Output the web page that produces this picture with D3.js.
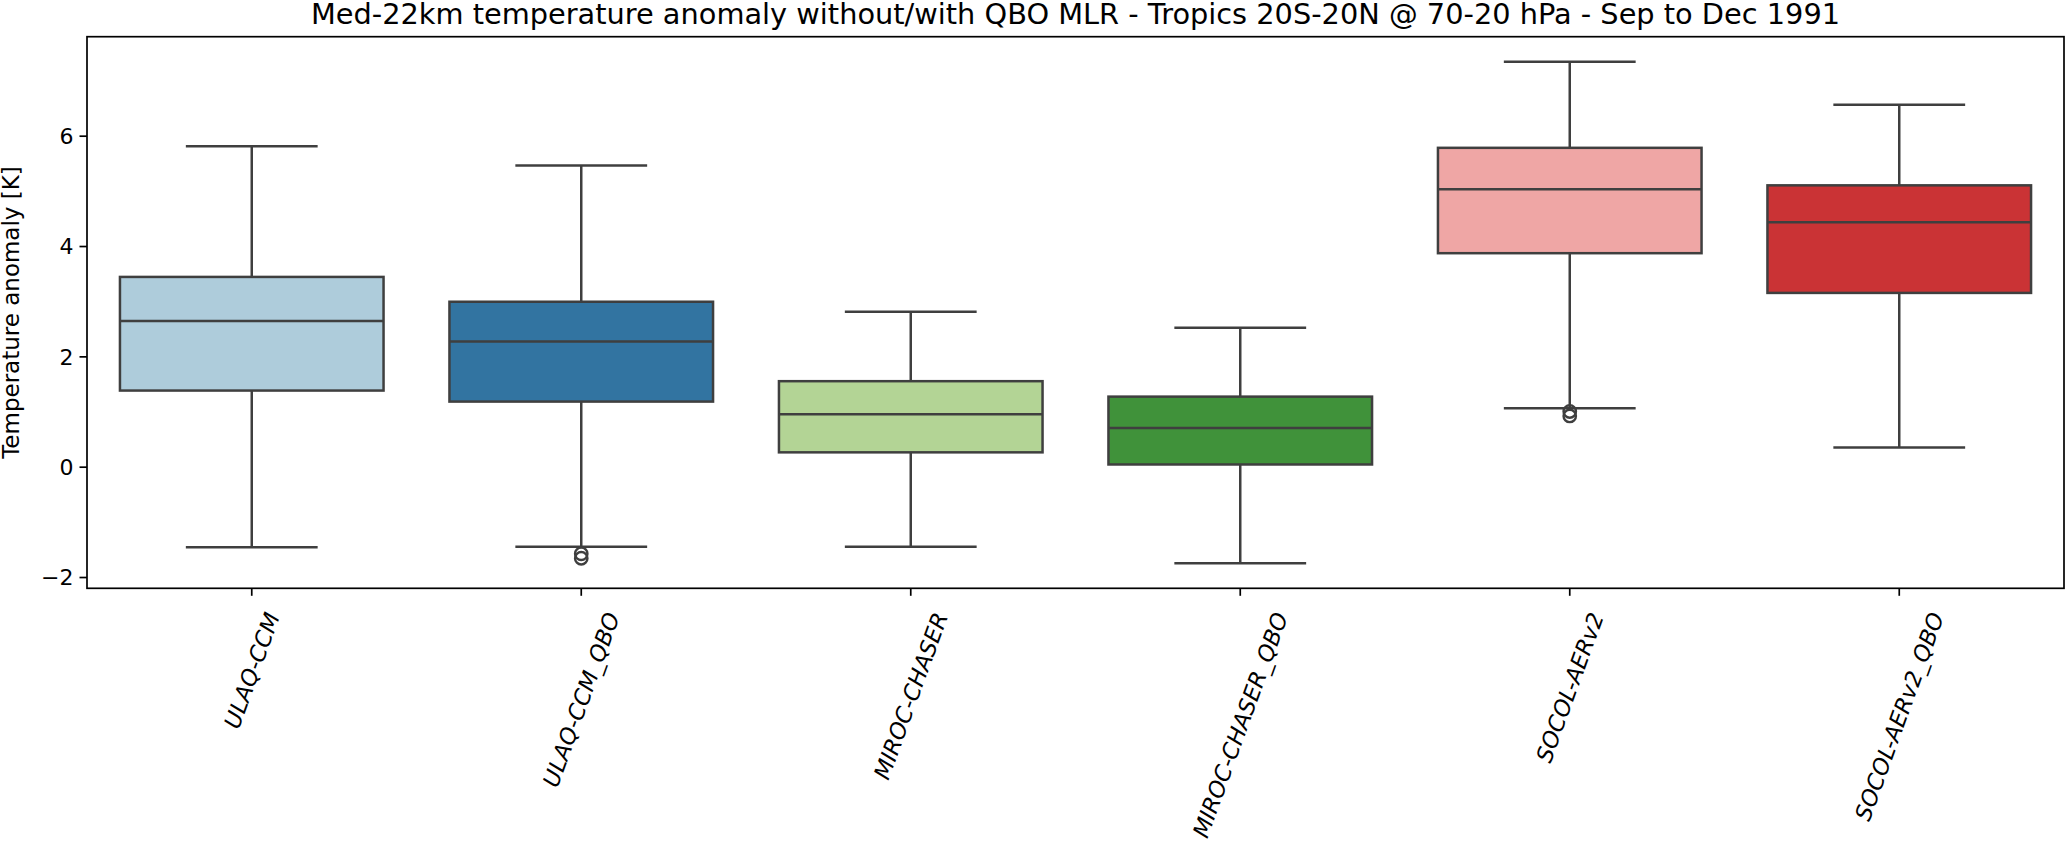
<!DOCTYPE html>
<html>
<head>
<meta charset="utf-8">
<script src="https://cdn.jsdelivr.net/npm/d3@7"></script>
<style>
  html, body { margin: 0; padding: 0; background: #fff; }
  svg { display: block; font-family: "DejaVu Sans", sans-serif; }
</style>
</head>
<body>
<svg id="chart" width="2067" height="850"></svg>
<script>
// box statistics
const categories = ["ULAQ-CCM", "ULAQ-CCM_QBO", "MIROC-CHASER", "MIROC-CHASER_QBO", "SOCOL-AERv2", "SOCOL-AERv2_QBO"];
const whiskerLow = [-1.46, -1.45, -1.45, -1.75, 1.06, 0.35];
const q1 = [1.38, 1.18, 0.26, 0.04, 3.87, 3.15];
const median = [2.64, 2.27, 0.95, 0.70, 5.03, 4.43];
const q3 = [3.44, 2.99, 1.55, 1.27, 5.78, 5.10];
const whiskerHigh = [5.81, 5.46, 2.81, 2.52, 7.34, 6.56];
const fliers = [[], [-1.58, -1.66], [], [], [1.00, 0.92], []];
const boxColors = ["#aeccdb", "#3274a1", "#b3d495", "#40923a", "#efa6a5", "#ca3335"];
const yTicks = [-2, 0, 2, 4, 6];

const title = "Med-22km temperature anomaly without/with QBO MLR - Tropics 20S-20N @ 70-20 hPa - Sep to Dec 1991";
const yLabel = "Temperature anomaly [K]";

const svg = d3.select("#chart");
const margin = { top: 36.7, right: 3, bottom: 261.7, left: 87 };
const width = 2067, height = 850;
const lineColor = "#3f3f3f";
const lw = 2.5;

const data = categories.map((c, i) => ({
  name: c, lo: whiskerLow[i], q1: q1[i], med: median[i], q3: q3[i], hi: whiskerHigh[i],
  fliers: fliers[i], color: boxColors[i]
}));

const allVals = data.flatMap(d => [d.lo, d.hi, ...d.fliers]);
const yMin = d3.min(allVals), yMax = d3.max(allVals);
const pad = (yMax - yMin) * 0.05;

const x = d3.scaleBand().domain(categories).range([margin.left, width - margin.right]).padding(0);
const y = d3.scaleLinear().domain([yMin - pad, yMax + pad]).range([height - margin.bottom, margin.top]);

const boxW = x.bandwidth() * 0.8;
const capW = boxW / 2;

const boxes = svg.append("g").selectAll("g")
  .data(data)
  .enter().append("g")
  .attr("transform", d => `translate(${x(d.name) + x.bandwidth() / 2},0)`);

// whiskers
boxes.append("line")
  .attr("x1", 0).attr("x2", 0)
  .attr("y1", d => y(d.q3)).attr("y2", d => y(d.hi))
  .attr("stroke", lineColor).attr("stroke-width", lw);
boxes.append("line")
  .attr("x1", 0).attr("x2", 0)
  .attr("y1", d => y(d.q1)).attr("y2", d => y(d.lo))
  .attr("stroke", lineColor).attr("stroke-width", lw);
boxes.append("line")
  .attr("x1", -capW / 2).attr("x2", capW / 2)
  .attr("y1", d => y(d.hi)).attr("y2", d => y(d.hi))
  .attr("stroke", lineColor).attr("stroke-width", lw);
boxes.append("line")
  .attr("x1", -capW / 2).attr("x2", capW / 2)
  .attr("y1", d => y(d.lo)).attr("y2", d => y(d.lo))
  .attr("stroke", lineColor).attr("stroke-width", lw);

// box
boxes.append("rect")
  .attr("x", -boxW / 2)
  .attr("width", boxW)
  .attr("y", d => y(d.q3))
  .attr("height", d => y(d.q1) - y(d.q3))
  .attr("fill", d => d.color)
  .attr("stroke", lineColor).attr("stroke-width", lw);

// median
boxes.append("line")
  .attr("x1", -boxW / 2).attr("x2", boxW / 2)
  .attr("y1", d => y(d.med)).attr("y2", d => y(d.med))
  .attr("stroke", lineColor).attr("stroke-width", lw);

// outliers
boxes.selectAll("circle")
  .data(d => d.fliers)
  .enter().append("circle")
  .attr("cx", 0)
  .attr("cy", v => y(v))
  .attr("r", 6.2)
  .attr("fill", "none")
  .attr("stroke", lineColor).attr("stroke-width", 2.4);

// axes
const yAxis = svg.append("g")
  .attr("transform", `translate(${margin.left},0)`)
  .call(d3.axisLeft(y).tickValues(yTicks).tickSize(7.5).tickPadding(6).tickFormat(d => d < 0 ? "\u2212" + Math.abs(d) : d));
yAxis.select(".domain").remove();
yAxis.selectAll(".tick line").attr("stroke", "#000").attr("stroke-width", 1.7);
yAxis.selectAll(".tick text")
  .attr("font-size", 22).attr("fill", "#000")
  .attr("font-family", "DejaVu Sans").attr("dy", "0.36em");

const xAxis = svg.append("g")
  .attr("transform", `translate(0,${height - margin.bottom})`)
  .call(d3.axisBottom(x).tickSize(7.5).tickSizeOuter(0));
xAxis.select(".domain").remove();
xAxis.selectAll(".tick line").attr("stroke", "#000").attr("stroke-width", 1.7);
xAxis.selectAll(".tick text").remove();

// rotated category labels, bbox centred below each tick
const labelTop = 609;
const labels = svg.append("g").selectAll("text")
  .data(categories)
  .enter().append("text")
  .attr("font-size", 22.5)
  .attr("font-style", "italic")
  .attr("fill", "#000")
  .attr("text-anchor", "end")
  .attr("transform", d => `translate(${x(d) + x.bandwidth() / 2},${labelTop}) rotate(-70)`)
  .text(d => d);
labels.each(function (d) {
  const r = this.getBoundingClientRect();
  const cx = x(d) + x.bandwidth() / 2;
  const dx = cx - (r.left + r.right) / 2;
  const dy = labelTop - r.top;
  d3.select(this).attr("transform", `translate(${cx + dx},${labelTop + dy}) rotate(-70)`);
});

// frame
svg.append("rect")
  .attr("x", margin.left).attr("y", margin.top)
  .attr("width", width - margin.right - margin.left)
  .attr("height", height - margin.bottom - margin.top)
  .attr("fill", "none").attr("stroke", "#000").attr("stroke-width", 1.7);

// title and y label
svg.append("text")
  .attr("x", (margin.left + width - margin.right) / 2)
  .attr("y", 24)
  .attr("text-anchor", "middle")
  .attr("font-size", 28.8)
  .attr("fill", "#000")
  .text(title);

svg.append("text")
  .attr("transform", `translate(19,${(margin.top + height - margin.bottom) / 2}) rotate(-90)`)
  .attr("text-anchor", "middle")
  .attr("font-size", 23)
  .attr("fill", "#000")
  .text(yLabel);
</script>
</body>
</html>
